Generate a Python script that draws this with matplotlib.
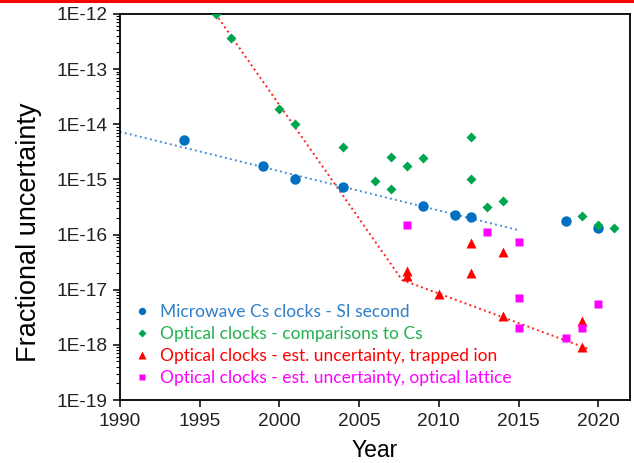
import matplotlib

matplotlib.use("Agg")
import matplotlib.pyplot as plt  # noqa: E402
import numpy as np  # noqa: E402
from matplotlib.lines import Line2D  # noqa: E402
from matplotlib.ticker import FixedLocator, FuncFormatter, LogLocator, NullFormatter  # noqa: E402

# --- data ---
cs_year = [1994, 1999, 2001, 2004, 2009, 2011, 2012, 2018, 2020]
cs_unc = [5.2e-15, 1.75e-15, 1.0e-15, 7.2e-16, 3.3e-16, 2.3e-16, 2.1e-16, 1.75e-16, 1.3e-16]

cmp_year = [1996, 1997, 2000, 2001, 2004, 2006, 2007, 2007, 2008, 2009,
            2012, 2012, 2013, 2014, 2019, 2020, 2021]
cmp_unc = [1.0e-12, 3.7e-13, 1.9e-14, 1.0e-14, 3.9e-15, 9.3e-16, 2.5e-15, 6.6e-16, 1.74e-15,
           2.4e-15, 5.9e-15, 1.0e-15, 3.2e-16, 4.0e-16, 2.15e-16, 1.5e-16, 1.3e-16]

ion_year = [2008, 2008, 2010, 2012, 2012, 2014, 2014, 2019, 2019]
ion_unc = [2.2e-17, 1.8e-17, 8.5e-18, 6.9e-17, 2.0e-17, 4.8e-17, 3.3e-18, 2.7e-18, 9.2e-19]

lat_year = [2008, 2013, 2015, 2015, 2015, 2018, 2019, 2020]
lat_unc = [1.5e-16, 1.1e-16, 7.2e-17, 7.1e-18, 2.0e-18, 1.36e-18, 2.0e-18, 5.6e-18]

# trend lines (dotted)
cs_trend_year = [1990, 2015]
cs_trend_unc = [7.3e-15, 1.2e-16]
opt_trend_year = [1996, 2007.7, 2019.5]
opt_trend_unc = [1.0e-12, 1.5e-17, 8.2e-19]

LABELS = ["Microwave Cs clocks - SI second",
          "Optical clocks - comparisons to Cs",
          "Optical clocks - est. uncertainty, trapped ion",
          "Optical clocks - est. uncertainty, optical lattice"]
MARKER_COLORS = ["#0070C0", "#00A550", "#FF0000", "#FF00FF"]
TEXT_COLORS = ["#2E7FC8", "#22B050", "#FF0000", "#FF00FF"]

fig = plt.figure(figsize=(6.34, 4.63), dpi=100)
ax = fig.add_axes([0.189, 0.136, 0.805, 0.834])

ax.plot(cs_trend_year, cs_trend_unc, ls=":", lw=1.4, color="#4A90D9", zorder=2)
ax.plot(opt_trend_year, opt_trend_unc, ls=":", lw=1.4, color="#FF2020", zorder=2)

ax.plot(cs_year, cs_unc, "o", ms=7.5, color=MARKER_COLORS[0], mec="none", label=LABELS[0], zorder=3)
ax.plot(cmp_year, cmp_unc, "D", ms=5.5, color=MARKER_COLORS[1], mec="none", label=LABELS[1], zorder=4)
ax.plot(ion_year, ion_unc, "^", ms=7.5, color=MARKER_COLORS[2], mec="none", label=LABELS[2], zorder=3)
ax.plot(lat_year, lat_unc, "s", ms=5.2, color=MARKER_COLORS[3], mec="none", label=LABELS[3], zorder=3)

ax.set_yscale("log")
ax.set_xlim(1990, 2022)
ax.set_ylim(1e-19, 1e-12)
ax.xaxis.set_major_locator(FixedLocator(np.arange(1990, 2021, 5)))
ax.yaxis.set_major_locator(LogLocator(base=10, numticks=12))
ax.yaxis.set_minor_locator(LogLocator(base=10, subs=np.arange(2, 10), numticks=12))
ax.yaxis.set_minor_formatter(NullFormatter())
ax.yaxis.set_major_formatter(FuncFormatter(lambda v, _: f"1E{int(round(np.log10(v))):03d}"))

for s in ax.spines.values():
    s.set_linewidth(1.3)
ax.tick_params(axis="both", which="major", direction="out", length=5, width=1.1,
               labelsize=13.8, pad=4)
ax.tick_params(axis="y", which="minor", direction="out", length=3, width=0.8)
for lab in ax.get_xticklabels() + ax.get_yticklabels():
    lab.set_fontfamily("Liberation Sans")
    lab.set_color("#222222")

ax.set_xlabel("Year", fontsize=16.5, family="Liberation Sans", labelpad=7)
ax.set_ylabel("Fractional uncertainty", fontsize=19.5, family="Liberation Sans")
ax.yaxis.set_label_coords(-0.152, 0.435)

leg = ax.legend(loc="lower left", bbox_to_anchor=(0.0, 0.0), frameon=False,
                prop={"family": "Lato", "size": 12.5}, markerscale=0.7,
                handlelength=1.0, handletextpad=0.5, labelspacing=0.35,
                borderaxespad=0.4)
for txt, c in zip(leg.get_texts(), TEXT_COLORS):
    txt.set_color(c)

# thin red rule along the top edge of the image
fig.add_artist(Line2D([0, 1], [0.998, 0.998], transform=fig.transFigure,
                      color="#FF0000", lw=2.2))

fig.savefig("out.png", dpi=100)
